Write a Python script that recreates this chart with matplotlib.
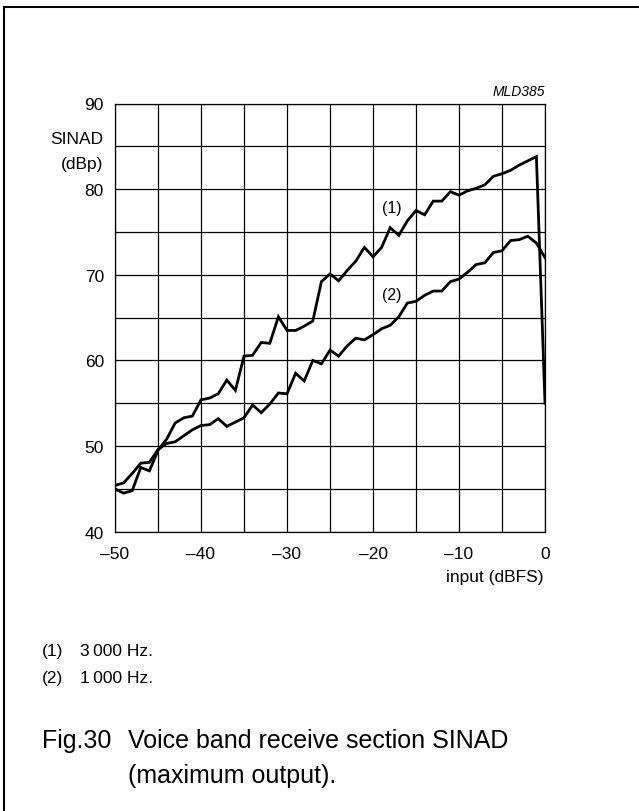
import matplotlib.pyplot as plt
from matplotlib.lines import Line2D

plt.rcParams['font.family'] = ['Liberation Sans', 'DejaVu Sans']

# input level (dBFS)
input_dbfs = [-50, -49, -48, -47, -46, -45, -44, -43, -42, -41,
              -40, -39, -38, -37, -36, -35, -34, -33, -32, -31,
              -30, -29, -28, -27, -26, -25, -24, -23, -22, -21,
              -20, -19, -18, -17, -16, -15, -14, -13, -12, -11,
              -10, -9, -8, -7, -6, -5, -4, -3, -2, -1, 0]

# (1) 3000 Hz
sinad_3000 = [45.0, 44.5, 44.8, 47.5, 47.1, 49.5, 50.8, 52.7, 53.3, 53.5,
              55.4, 55.6, 56.1, 57.7, 56.5, 60.5, 60.6, 62.1, 62.0, 65.1,
              63.5, 63.5, 64.0, 64.6, 69.2, 70.1, 69.3, 70.5, 71.6, 73.2,
              72.1, 73.2, 75.5, 74.6, 76.3, 77.5, 77.0, 78.6, 78.6, 79.7,
              79.3, 79.8, 80.1, 80.5, 81.5, 81.8, 82.2, 82.8, 83.3, 83.8, 55.0]

# (2) 1000 Hz
sinad_1000 = [45.4, 45.7, 46.8, 48.0, 48.1, 49.6, 50.3, 50.5, 51.2, 51.9,
              52.4, 52.5, 53.2, 52.3, 52.8, 53.3, 54.8, 53.9, 54.9, 56.2,
              56.1, 58.5, 57.6, 60.0, 59.6, 61.2, 60.5, 61.7, 62.6, 62.4,
              63.0, 63.7, 64.1, 65.1, 66.7, 66.9, 67.6, 68.1, 68.1, 69.2,
              69.5, 70.3, 71.2, 71.4, 72.6, 72.8, 74.0, 74.1, 74.5, 73.7, 72.0]

x_ticks = [-50, -40, -30, -20, -10, 0]
x_tick_labels = ['\u201350', '\u201340', '\u201330', '\u201320', '\u201310', '0']
y_ticks = [40, 50, 60, 70, 80, 90]

W, H = 639, 812


def px(x, y):
    # pixel position (from top-left) to figure fraction
    return x / W, 1 - y / H


fig = plt.figure(figsize=(W / 100, H / 100), dpi=100)
ax = fig.add_axes([115 / W, 1 - 532.7 / H, 430 / W, 428.2 / H])

ax.plot(input_dbfs, sinad_3000, color='black', lw=2.0, solid_joinstyle='miter')
ax.plot(input_dbfs, sinad_1000, color='black', lw=2.0, solid_joinstyle='miter')

ax.set_xlim(-50, 0)
ax.set_ylim(40, 90)

# grid every 5, labels every 10
ax.set_xticks(range(-50, 1, 5))
ax.set_xticklabels([x_tick_labels[i // 2] if i % 2 == 0 else '' for i in range(11)])
ax.set_yticks(range(40, 91, 5))
ax.set_yticklabels([str(v) if v in y_ticks else '' for v in range(40, 91, 5)])
ax.grid(True, color='black', lw=0.9)
ax.tick_params(length=0, labelsize=12.5)
ax.tick_params(axis='x', pad=10)
ax.tick_params(axis='y', pad=8)
for s in ax.spines.values():
    s.set_linewidth(0.9)

ax.text(-17.83, 77.9, '(1)', fontsize=11.5, ha='center', va='center')
ax.text(-17.83, 67.7, '(2)', fontsize=11.5, ha='center', va='center')

fig.text(*px(103, 139), 'SINAD', fontsize=12.5, ha='right', va='center')
fig.text(*px(103, 164), '(dBp)', fontsize=12.5, ha='right', va='center')
fig.text(*px(545, 92), 'MLD385', fontsize=10, style='italic', ha='right', va='center')
fig.text(*px(544, 578), 'input (dBFS)', fontsize=12.5, ha='right', va='center')

fig.text(*px(42, 652), '(1)', fontsize=12.5, ha='left', va='center')
fig.text(*px(80, 652), '3\u2009000 Hz.', fontsize=12.5, ha='left', va='center')
fig.text(*px(42, 679), '(2)', fontsize=12.5, ha='left', va='center')
fig.text(*px(80, 679), '1\u2009000 Hz.', fontsize=12.5, ha='left', va='center')

fig.text(*px(42, 741), 'Fig.30', fontsize=18, ha='left', va='center')
fig.text(*px(128, 741), 'Voice band receive section SINAD', fontsize=18, ha='left', va='center')
fig.text(*px(128, 776), '(maximum output).', fontsize=18, ha='left', va='center')

# page frame: only the top and left edges show
fig.add_artist(Line2D([4 / W, 4 / W], [0, 1 - 8 / H], color='black', lw=1.5))
fig.add_artist(Line2D([4 / W, 1], [1 - 8 / H, 1 - 8 / H], color='black', lw=1.5))

fig.savefig('out.png', dpi=100)
